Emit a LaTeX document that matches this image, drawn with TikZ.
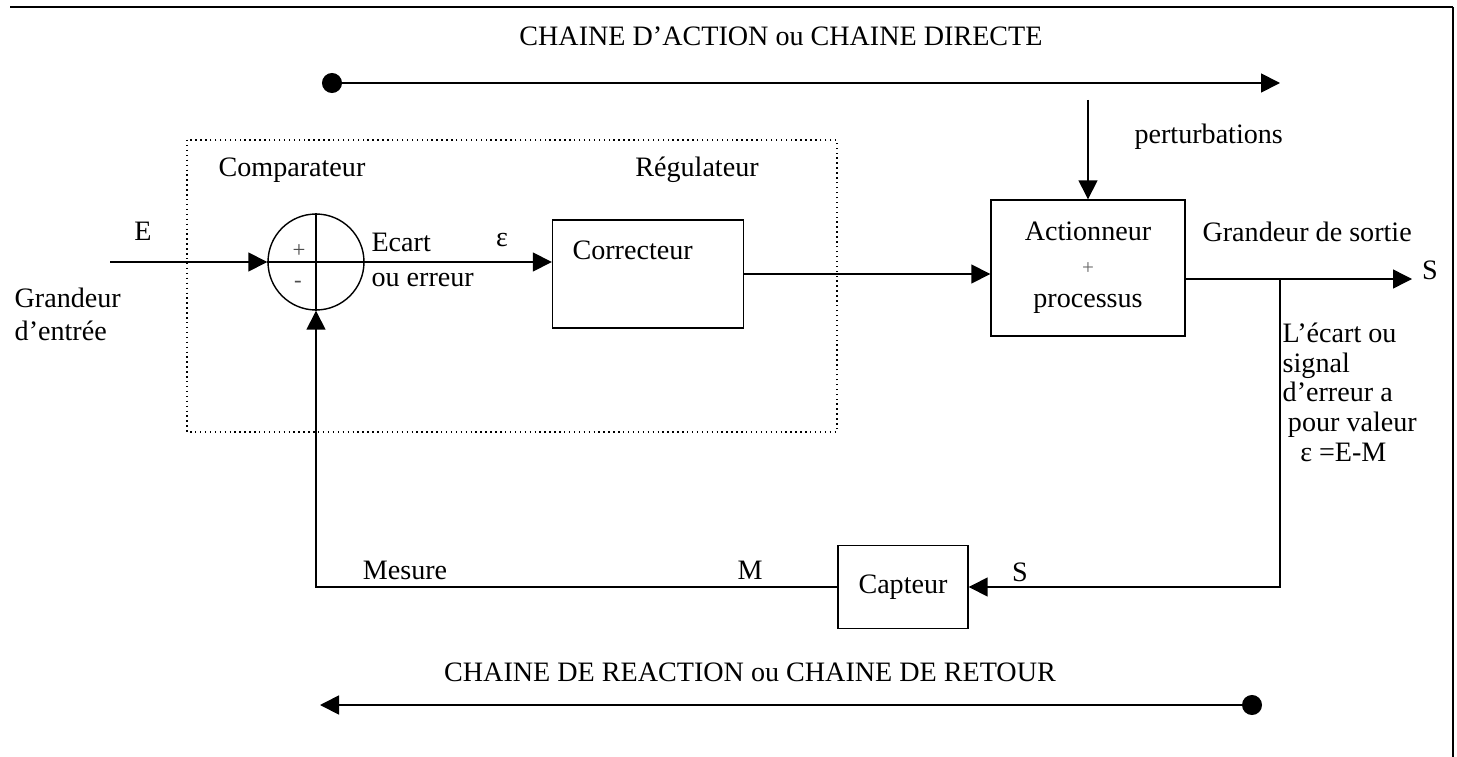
\documentclass[tikz,border=0pt]{standalone}
\usepackage{fontspec}
\setmainfont{Liberation Serif}
\usetikzlibrary{arrows.meta}

\begin{document}
\begin{tikzpicture}[x=0.02cm,y=-0.02cm,line width=0.8pt,
  font=\fontsize{16}{19}\selectfont,
  bloc/.style={draw, rectangle, inner sep=0pt},
  signe/.style={font=\fontsize{13}{15}\selectfont, text=black!70},
  fleche/.style={-{Triangle[length=0.38cm,width=0.38cm]}},
  chaine/.style={line width=1pt}]
\useasboundingbox (0,0) rectangle (1457,757);
\draw[line width=1.2pt] (10,7) -- (1453,7);
\draw (1453,7) -- (1453,757);
% chaine directe
\node (t1) at (781,36) {CHAINE D'ACTION ou CHAINE DIRECTE};
\coordinate (ca1) at (322,83);
\coordinate (ca2) at (1280,83);
\path[draw,chaine,{Circle[length=0.4cm]}-{Triangle[length=0.38cm,width=0.38cm]}] (ca1) -- (ca2);
% regulateur
\draw[dotted] (187,140) rectangle (837,432);
\node (comp) at (292,170) {Comparateur};
\node (reg) at (697,170) {Régulateur};
\node[draw, circle, minimum size=1.92cm, inner sep=0pt] (sum) at (316,262) {};
\path[draw] (sum.north) -- (sum.south);
\path[draw] (sum.west) -- (sum.east);
\node[signe] (plus) at (299,251) {+};
\node[signe] (moins) at (298,284) {-};
\coordinate (in) at (110,262);
\node (E) at (143,231) {E};
\node[align=left, anchor=north west, inner sep=0pt] (ge) at (14,287) {Grandeur\\d'entrée};
\path[draw,fleche] (in) -- (sum.west);
\node[bloc, minimum width=3.82cm, minimum height=2.16cm] (cor) at (648,274) {};
\node[anchor=west] (corl) at (566,250) {Correcteur};
\path[draw,fleche] (sum.east) -- (sum.east -| cor.west);
\node[anchor=west] (ecart) at (365,242) {Ecart};
\node[anchor=west] (err) at (365,280) {ou erreur};
\node (eps) at (502,240) {ε};
% actionneur
\node[bloc, minimum width=3.88cm, minimum height=2.72cm, align=center] (act) at (1088,268) {Actionneur\\{\fontsize{12}{14}\selectfont\color{black!60}+}\\processus};
\path[draw,fleche] (cor.east) -- (cor.east -| act.west);
\coordinate (pert) at (1088,100);
\node[anchor=west] (pertl) at (1128,137) {perturbations};
\path[draw,fleche] (pert) -- (act.north);
\coordinate (sortie) at (1412,279);
\path[draw,fleche] (act.east |- sortie) -- (sortie);
\node (Sl) at (1430,270) {S};
\node[anchor=west] (gs) at (1196,232) {Grandeur de sortie};
\node[align=left, anchor=north west, inner sep=0pt, font=\fontsize{16}{17}\selectfont] (txt) at (1282,322) {L'écart ou\\signal\\d'erreur a\\\hspace*{3pt}pour valeur\\\hspace*{10pt}ε =E-M};
% retour
\node[bloc, minimum width=2.6cm, minimum height=1.66cm] (cap) at (903,587) {Capteur};
\coordinate (b) at (1280,279);
\path[draw,fleche] (b) |- (cap.east);
\node (Sc) at (1020,572) {S};
\node (M) at (750,570) {M};
\node (mes) at (405,570) {Mesure};
\path[draw,fleche] (cap.west) -| (sum.south);
% chaine de retour
\node (t2) at (750,672) {CHAINE DE REACTION ou CHAINE DE RETOUR};
\coordinate (cr1) at (1262,705);
\coordinate (cr2) at (320,705);
\path[draw,chaine,{Circle[length=0.4cm]}-{Triangle[length=0.38cm,width=0.38cm]}] (cr1) -- (cr2);
\end{tikzpicture}
\end{document}
